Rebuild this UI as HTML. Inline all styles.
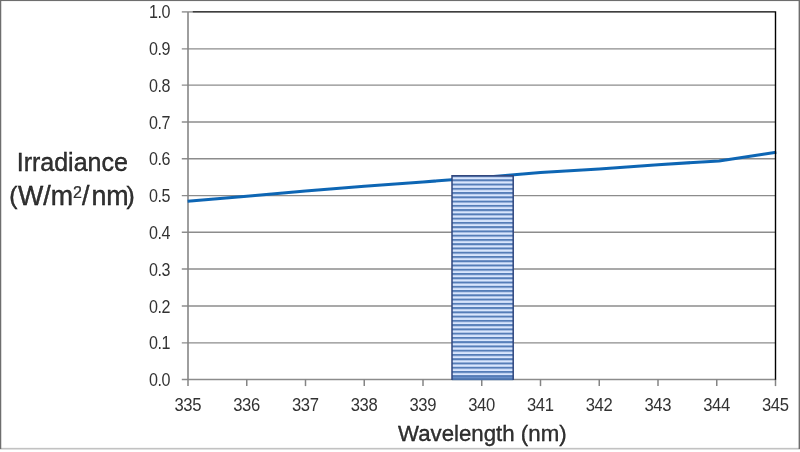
<!DOCTYPE html>
<html><head><meta charset="utf-8"><title>Irradiance chart</title>
<style>
html,body{margin:0;padding:0;background:#fff;}
body{width:800px;height:452px;overflow:hidden;font-family:"Liberation Sans",sans-serif;}
svg{display:block;}
text{font-family:"Liberation Sans",sans-serif;fill:#333333;}
</style></head><body>
<svg width="800" height="452" viewBox="0 0 800 452">
<defs>
<pattern id="hs" x="0" y="175.04" width="8" height="4.26" patternUnits="userSpaceOnUse">
<rect x="0" y="0" width="8" height="4.26" fill="#d9e6fd"/>
<rect x="0" y="0" width="8" height="2.0" fill="#557db8"/>
</pattern>
<filter id="bl" x="0" y="0" width="800" height="452" filterUnits="userSpaceOnUse"><feGaussianBlur stdDeviation="0.42"/></filter>
</defs>
<rect x="0" y="0" width="800" height="452" fill="#fff"/>

<rect x="0" y="447.85" width="800" height="1.65" fill="#c2c2c2"/>
<rect x="0" y="0" width="800" height="1.08" fill="#6e6e6e"/>
<rect x="0" y="0" width="1.25" height="449" fill="#6e6e6e"/>
<rect x="798.6" y="0" width="1.4" height="449" fill="#6e6e6e"/>
<g filter="url(#bl)">
<line x1="181.8" y1="379.45" x2="775.5" y2="379.45" stroke="#8c8c8c" stroke-width="1.4"/>
<line x1="181.8" y1="342.85" x2="775.5" y2="342.85" stroke="#8c8c8c" stroke-width="1.4"/>
<line x1="181.8" y1="305.95" x2="775.5" y2="305.95" stroke="#8c8c8c" stroke-width="1.4"/>
<line x1="181.8" y1="269.05" x2="775.5" y2="269.05" stroke="#8c8c8c" stroke-width="1.4"/>
<line x1="181.8" y1="232.30" x2="775.5" y2="232.30" stroke="#8c8c8c" stroke-width="1.4"/>
<line x1="181.8" y1="195.60" x2="775.5" y2="195.60" stroke="#8c8c8c" stroke-width="1.4"/>
<line x1="181.8" y1="158.75" x2="775.5" y2="158.75" stroke="#8c8c8c" stroke-width="1.4"/>
<line x1="181.8" y1="122.00" x2="775.5" y2="122.00" stroke="#8c8c8c" stroke-width="1.4"/>
<line x1="181.8" y1="85.15" x2="775.5" y2="85.15" stroke="#8c8c8c" stroke-width="1.4"/>
<line x1="181.8" y1="48.85" x2="775.5" y2="48.85" stroke="#8c8c8c" stroke-width="1.4"/>
<line x1="181.8" y1="11.9" x2="192.6" y2="11.9" stroke="#8c8c8c" stroke-width="1.4"/>
<line x1="188.0" y1="11.9" x2="188.0" y2="379.4" stroke="#868686" stroke-width="1.6"/>
<line x1="188.00" y1="379.4" x2="188.00" y2="386.09999999999997" stroke="#848484" stroke-width="1.5"/>
<line x1="246.75" y1="379.4" x2="246.75" y2="386.09999999999997" stroke="#848484" stroke-width="1.5"/>
<line x1="305.50" y1="379.4" x2="305.50" y2="386.09999999999997" stroke="#848484" stroke-width="1.5"/>
<line x1="364.25" y1="379.4" x2="364.25" y2="386.09999999999997" stroke="#848484" stroke-width="1.5"/>
<line x1="423.00" y1="379.4" x2="423.00" y2="386.09999999999997" stroke="#848484" stroke-width="1.5"/>
<line x1="481.75" y1="379.4" x2="481.75" y2="386.09999999999997" stroke="#848484" stroke-width="1.5"/>
<line x1="540.50" y1="379.4" x2="540.50" y2="386.09999999999997" stroke="#848484" stroke-width="1.5"/>
<line x1="599.25" y1="379.4" x2="599.25" y2="386.09999999999997" stroke="#848484" stroke-width="1.5"/>
<line x1="658.00" y1="379.4" x2="658.00" y2="386.09999999999997" stroke="#848484" stroke-width="1.5"/>
<line x1="716.75" y1="379.4" x2="716.75" y2="386.09999999999997" stroke="#848484" stroke-width="1.5"/>
<line x1="775.50" y1="379.4" x2="775.50" y2="386.09999999999997" stroke="#848484" stroke-width="1.5"/>
<polyline points="187.6,201.3 246.75,196.35 305.5,191.1 364.25,186.35 423.0,182.0 481.75,177.4 540.5,172.4 599.25,168.9 658.0,164.7 719.0,160.9 776.3,152.2" fill="none" stroke="#1166b4" stroke-width="3.05" stroke-linejoin="round"/>
<rect x="452.0" y="175.8" width="61.20" height="203.20" fill="url(#hs)"/>
<rect x="452.0" y="375.3" width="61.20" height="4.8" fill="#557db8"/>
<rect x="452.0" y="377.25" width="61.20" height="1.2" fill="#6d94cd"/>
<rect x="452.0" y="378.45" width="61.20" height="1.65" fill="#4c72ab"/>
<polyline points="452.0,380.1 452.0,175.8 513.2,175.8 513.2,380.1" fill="none" stroke="#30477e" stroke-width="1.5"/>
<polyline points="192.6,11.9 775.5,11.9 775.5,379.7" fill="none" stroke="#000" stroke-width="1.4"/>
<text transform="translate(170.1,386.00) scale(0.92,1.05)" font-size="17.5" letter-spacing="-0.5" text-anchor="end">0.0</text>
<text transform="translate(170.1,349.40) scale(0.92,1.05)" font-size="17.5" letter-spacing="-0.5" text-anchor="end">0.1</text>
<text transform="translate(170.1,312.50) scale(0.92,1.05)" font-size="17.5" letter-spacing="-0.5" text-anchor="end">0.2</text>
<text transform="translate(170.1,275.60) scale(0.92,1.05)" font-size="17.5" letter-spacing="-0.5" text-anchor="end">0.3</text>
<text transform="translate(170.1,238.85) scale(0.92,1.05)" font-size="17.5" letter-spacing="-0.5" text-anchor="end">0.4</text>
<text transform="translate(170.1,202.15) scale(0.92,1.05)" font-size="17.5" letter-spacing="-0.5" text-anchor="end">0.5</text>
<text transform="translate(170.1,165.30) scale(0.92,1.05)" font-size="17.5" letter-spacing="-0.5" text-anchor="end">0.6</text>
<text transform="translate(170.1,128.55) scale(0.92,1.05)" font-size="17.5" letter-spacing="-0.5" text-anchor="end">0.7</text>
<text transform="translate(170.1,91.70) scale(0.92,1.05)" font-size="17.5" letter-spacing="-0.5" text-anchor="end">0.8</text>
<text transform="translate(170.1,55.40) scale(0.92,1.05)" font-size="17.5" letter-spacing="-0.5" text-anchor="end">0.9</text>
<text transform="translate(170.1,18.45) scale(0.92,1.05)" font-size="17.5" letter-spacing="-0.5" text-anchor="end">1.0</text>
<text transform="translate(187.75,410.6) scale(0.95,1.05)" font-size="17.5" letter-spacing="-0.5" text-anchor="middle">335</text>
<text transform="translate(246.50,410.6) scale(0.95,1.05)" font-size="17.5" letter-spacing="-0.5" text-anchor="middle">336</text>
<text transform="translate(305.25,410.6) scale(0.95,1.05)" font-size="17.5" letter-spacing="-0.5" text-anchor="middle">337</text>
<text transform="translate(364.00,410.6) scale(0.95,1.05)" font-size="17.5" letter-spacing="-0.5" text-anchor="middle">338</text>
<text transform="translate(422.75,410.6) scale(0.95,1.05)" font-size="17.5" letter-spacing="-0.5" text-anchor="middle">339</text>
<text transform="translate(481.50,410.6) scale(0.95,1.05)" font-size="17.5" letter-spacing="-0.5" text-anchor="middle">340</text>
<text transform="translate(540.25,410.6) scale(0.95,1.05)" font-size="17.5" letter-spacing="-0.5" text-anchor="middle">341</text>
<text transform="translate(599.00,410.6) scale(0.95,1.05)" font-size="17.5" letter-spacing="-0.5" text-anchor="middle">342</text>
<text transform="translate(657.75,410.6) scale(0.95,1.05)" font-size="17.5" letter-spacing="-0.5" text-anchor="middle">343</text>
<text transform="translate(716.50,410.6) scale(0.95,1.05)" font-size="17.5" letter-spacing="-0.5" text-anchor="middle">344</text>
<text transform="translate(775.25,410.6) scale(0.95,1.05)" font-size="17.5" letter-spacing="-0.5" text-anchor="middle">345</text>
<text transform="translate(16.7,171.0) scale(0.94,1)" font-size="26.6" fill="#000000" stroke="#000000" stroke-width="0.35">Irradiance</text>
<text x="9.2" y="204.9" font-size="26.8" fill="#000000" stroke="#000000" stroke-width="0.35"><tspan font-size="24.6" dy="-1">(</tspan><tspan dy="1" dx="0.6">W/m</tspan><tspan font-size="16" dy="-7.4" stroke-width="0.2">2</tspan><tspan dy="7.4">/</tspan><tspan dx="2">nm</tspan><tspan font-size="24.6" dy="-1" dx="-2.2">)</tspan></text>
<text transform="translate(398.0,441.0) scale(0.985,1)" font-size="22.6" fill="#000000" stroke="#000000" stroke-width="0.3">Wavelength (nm)</text>
</g>
</svg></body></html>
